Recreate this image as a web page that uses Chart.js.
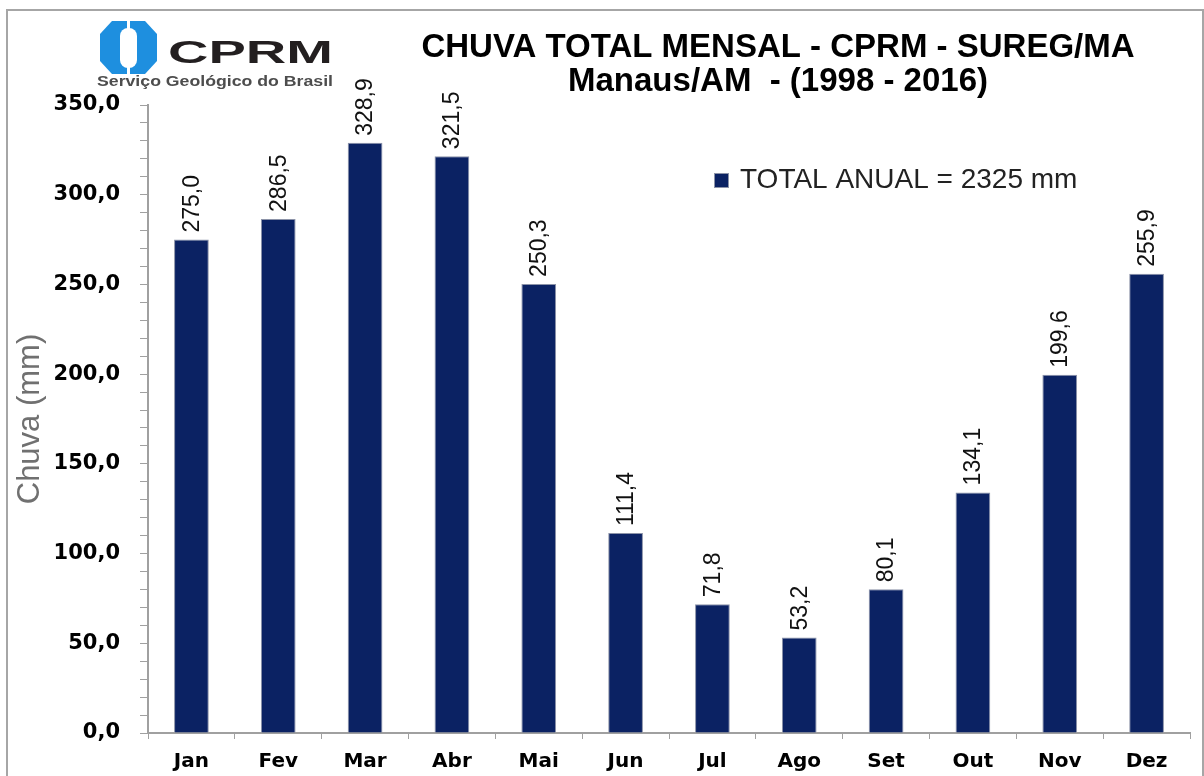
<!DOCTYPE html>
<html lang="pt-BR">
<head>
<meta charset="utf-8">
<title>Chuva total mensal - Manaus/AM</title>
<script src="https://cdn.jsdelivr.net/npm/chart.js@4.4.1/dist/chart.umd.min.js"></script>
<style>
  html, body { margin: 0; padding: 0; background: #fff; }
  canvas { display: block; }
</style>
</head>
<body>
<canvas id="graficoChuva" width="1204" height="776"></canvas>
<script>
const meses = ['Jan', 'Fev', 'Mar', 'Abr', 'Mai', 'Jun', 'Jul', 'Ago', 'Set', 'Out', 'Nov', 'Dez'];
const chuvaMensal = [275.0, 286.5, 328.9, 321.5, 250.3, 111.4, 71.8, 53.2, 80.1, 134.1, 199.6, 255.9];
const legendaTotal = 'TOTAL ANUAL = 2325 mm';
const tituloLinhas = ['CHUVA TOTAL MENSAL - CPRM - SUREG/MA', 'Manaus/AM  - (1998 - 2016)'];
const yMin = 0;
const yMax = 350;
const yPasso = 10;
const yPassoRotulo = 50;

const corBarra = '#0b2263';
const fonteArial = '"Liberation Sans", Arial, sans-serif';
const fonteEixo = '"DejaVu Sans", Verdana, sans-serif';

// formato brasileiro: 275,0
const fmt = v => v.toFixed(1).replace('.', ',');

// Fundo branco e moldura cinza em volta do grafico
const moldura = {
    id: 'moldura',
    beforeDraw(chart) {
        const ctx = chart.ctx;
        ctx.save();
        ctx.fillStyle = '#fff';
        ctx.fillRect(0, 0, chart.width, chart.height);
        ctx.strokeStyle = '#a6a6a6';
        ctx.lineWidth = 2;
        ctx.strokeRect(7, 10, chart.width - 8, chart.height + 20);
        ctx.restore();
    }
};

// Valores em cima das barras, girados 90 graus
const rotulosBarras = {
    id: 'rotulosBarras',
    afterDatasetsDraw(chart) {
        const ctx = chart.ctx;
        const meta = chart.getDatasetMeta(0);
        ctx.save();
        ctx.font = '23px ' + fonteArial;
        ctx.fillStyle = '#111';
        ctx.textAlign = 'left';
        ctx.textBaseline = 'middle';
        meta.data.forEach((barra, i) => {
            ctx.save();
            ctx.translate(barra.x + 1, barra.y - 7);
            ctx.rotate(-Math.PI / 2);
            ctx.fillText(fmt(chart.data.datasets[0].data[i]), 0, 0);
            ctx.restore();
        });
        ctx.restore();
    }
};

// Texto esticado para caber numa largura
function textoLargura(ctx, texto, x, y, largura) {
    const w = ctx.measureText(texto).width;
    ctx.save();
    ctx.translate(x, y);
    ctx.scale(largura / w, 1);
    ctx.fillText(texto, 0, 0);
    ctx.restore();
}

// Logo da CPRM, titulo e legenda
const cabecalho = {
    id: 'cabecalho',
    afterDraw(chart) {
        const ctx = chart.ctx;
        ctx.save();

        // simbolo azul
        ctx.fillStyle = '#1e8fdf';
        ctx.beginPath();
        ctx.moveTo(112, 21);
        ctx.lineTo(145, 21);
        ctx.lineTo(157, 34);
        ctx.lineTo(157, 61);
        ctx.lineTo(145, 74);
        ctx.lineTo(112, 74);
        ctx.lineTo(100, 61);
        ctx.lineTo(100, 34);
        ctx.closePath();
        ctx.fill();
        ctx.fillStyle = '#fff';
        ctx.beginPath();
        ctx.roundRect(120, 28, 17, 40, 8);
        ctx.fill();
        ctx.fillRect(127, 20, 3, 10);
        ctx.fillRect(127, 66, 3, 10);

        ctx.textAlign = 'left';
        ctx.textBaseline = 'alphabetic';
        ctx.fillStyle = '#231f20';
        ctx.font = 'bold 32px ' + fonteArial;
        textoLargura(ctx, 'CPRM', 168, 63, 165);
        ctx.fillStyle = '#4d4d4d';
        ctx.font = 'bold 14px ' + fonteArial;
        textoLargura(ctx, 'Serviço Geológico do Brasil', 97, 86, 236);

        // titulo
        ctx.fillStyle = '#000';
        ctx.textAlign = 'center';
        ctx.font = 'bold 33px ' + fonteArial;
        tituloLinhas.forEach((linha, i) => ctx.fillText(linha, 778, 57 + i * 34));

        // legenda
        ctx.fillStyle = corBarra;
        ctx.fillRect(714, 173, 14, 14);
        ctx.strokeStyle = '#8c93a8';
        ctx.lineWidth = 1;
        ctx.strokeRect(714.5, 173.5, 14, 14);
        ctx.fillStyle = '#222';
        ctx.textAlign = 'left';
        ctx.font = '28px ' + fonteArial;
        ctx.fillText(chart.data.datasets[0].label, 740, 188);

        ctx.restore();
    }
};

new Chart(document.getElementById('graficoChuva'), {
    type: 'bar',
    data: {
        labels: meses,
        datasets: [{
            label: legendaTotal,
            data: chuvaMensal,
            backgroundColor: corBarra,
            borderColor: '#8c93a8',
            borderWidth: 1,
            barPercentage: 0.4,
            categoryPercentage: 1.0
        }]
    },
    options: {
        responsive: false,
        animation: false,
        layout: {
            padding: { top: 105, right: 14, left: 0, bottom: 0 }
        },
        plugins: {
            legend: { display: false },
            title: { display: false },
            tooltip: { enabled: false }
        },
        scales: {
            x: {
                afterFit: scale => { scale.height = 43; },
                grid: {
                    drawOnChartArea: false,
                    tickLength: 6,
                    color: '#a0a0a0'
                },
                border: { color: '#a0a0a0', width: 2 },
                ticks: {
                    color: '#000',
                    padding: 11,
                    maxRotation: 0,
                    autoSkip: false,
                    font: { family: fonteEixo, size: 20, weight: 'bold' }
                }
            },
            y: {
                min: yMin,
                max: yMax,
                afterFit: scale => { scale.width = 148; },
                grid: {
                    drawOnChartArea: false,
                    tickLength: 8,
                    color: '#a0a0a0'
                },
                border: { color: '#a0a0a0', width: 2 },
                ticks: {
                    stepSize: yPasso,
                    color: '#000',
                    padding: 20,
                    autoSkip: false,
                    font: { family: fonteEixo, size: 21, weight: 'bold' },
                    callback: v => (v % yPassoRotulo === 0 ? fmt(v) : '')
                },
                title: {
                    display: true,
                    text: 'Chuva (mm)',
                    color: '#707070',
                    padding: { top: 12, bottom: 0 },
                    font: { family: fonteArial, size: 31 }
                }
            }
        }
    },
    plugins: [moldura, rotulosBarras, cabecalho]
});
</script>
</body>
</html>
